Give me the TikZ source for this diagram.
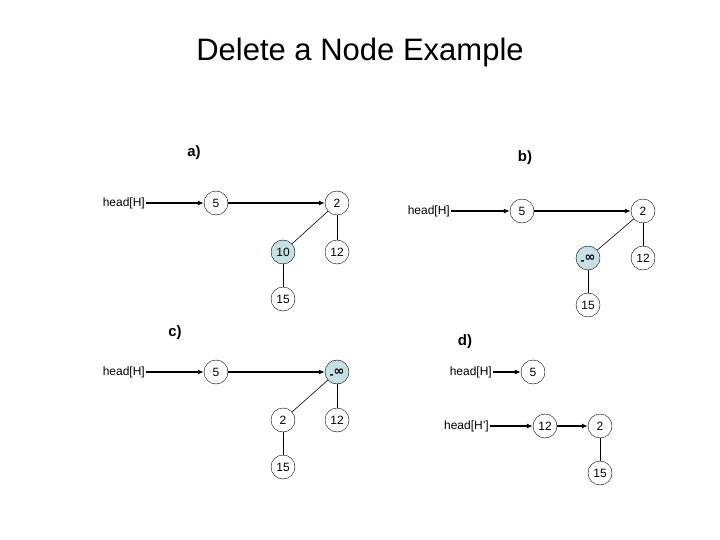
\documentclass[tikz,border=0pt]{standalone}
\usepackage{fontspec}
\setmainfont{Liberation Sans}
\newfontfamily\symfont{DejaVu Sans}
\definecolor{markfill}{RGB}{198,224,228}
\usetikzlibrary{arrows.meta}
\newcommand{\neginf}{{\bfseries\raisebox{-3pt}[0pt][0pt]{-}\symfont\fontsize{13}{13}\selectfont\bfseries ∞}}

\begin{document}
\begin{tikzpicture}[x=1pt, y=-1pt,
          key/.style={draw, circle, fill=white, minimum size=24pt, inner sep=0pt,
              font=\fontsize{12}{14}\selectfont},
          hit/.style={key, fill=markfill},
          ptr/.style={inner sep=1pt, font=\fontsize{12}{14}\selectfont},
          lbl/.style={font=\fontsize{15}{17}\selectfont\bfseries},
          arr/.style={-{Latex[length=6pt, width=5pt]}, line width=1.7pt},
          link/.style={line width=0.6pt}
        ]
        \useasboundingbox (0,0) rectangle (720,540);
        \node[font=\fontsize{31}{36}\selectfont] (title) at (360,52) {Delete a Node Example};
        % a)
        \node[lbl] (la) at (194,153) {a)};
        \node[ptr, anchor=east] (aH) at (146,203) {head[H]};
        \node[key] (a5)  at (216,203) {5};
        \node[key] (a2)  at (337,203) {2};
        \node[hit] (a10) at (283,252) {10};
        \node[key] (a12) at (337,252) {12};
        \node[key] (a15) at (283,299) {15};
        \draw[arr] (aH) -- (a5);
        \draw[arr] (a5) -- (a2);
        \draw[link] (a2) -- (a10);
        \draw[link] (a2) -- (a12);
        \draw[link] (a10) -- (a15);
        % b)
        \node[lbl] (lb) at (525,158) {b)};
        \node[ptr, anchor=east] (bH) at (451,211) {head[H]};
        \node[key] (b5)  at (522,211) {5};
        \node[key] (b2)  at (643,211) {2};
        \node[hit] (binf) at (588,258) {\neginf};
        \node[key] (b12) at (643,258) {12};
        \node[key] (b15) at (588,305) {15};
        \draw[arr] (bH) -- (b5);
        \draw[arr] (b5) -- (b2);
        \draw[link] (b2) -- (binf);
        \draw[link] (b2) -- (b12);
        \draw[link] (binf) -- (b15);
        % c)
        \node[lbl] (lc) at (175,333) {c)};
        \node[ptr, anchor=east] (cH) at (146,372) {head[H]};
        \node[key] (c5)  at (216,372) {5};
        \node[hit] (cinf) at (337,372) {\neginf};
        \node[key] (c2)  at (283,420) {2};
        \node[key] (c12) at (337,420) {12};
        \node[key] (c15) at (283,467) {15};
        \draw[arr] (cH) -- (c5);
        \draw[arr] (c5) -- (cinf);
        \draw[link] (cinf) -- (c2);
        \draw[link] (cinf) -- (c12);
        \draw[link] (c2) -- (c15);
        % d)
        \node[lbl] (ld) at (465,342) {d)};
        \node[ptr, anchor=east] (dH) at (493,372) {head[H]};
        \node[key] (d5)  at (533,372) {5};
        \node[ptr, anchor=east] (dH2) at (490,426) {head[H']};
        \node[key] (d12) at (545,426) {12};
        \node[key] (d2)  at (600,426) {2};
        \node[key] (d15) at (600,473) {15};
        \draw[arr] (dH) -- (d5);
        \draw[arr] (dH2) -- (d12);
        \draw[arr] (d12) -- (d2);
        \draw[link] (d2) -- (d15);
      \end{tikzpicture}
\end{document}
